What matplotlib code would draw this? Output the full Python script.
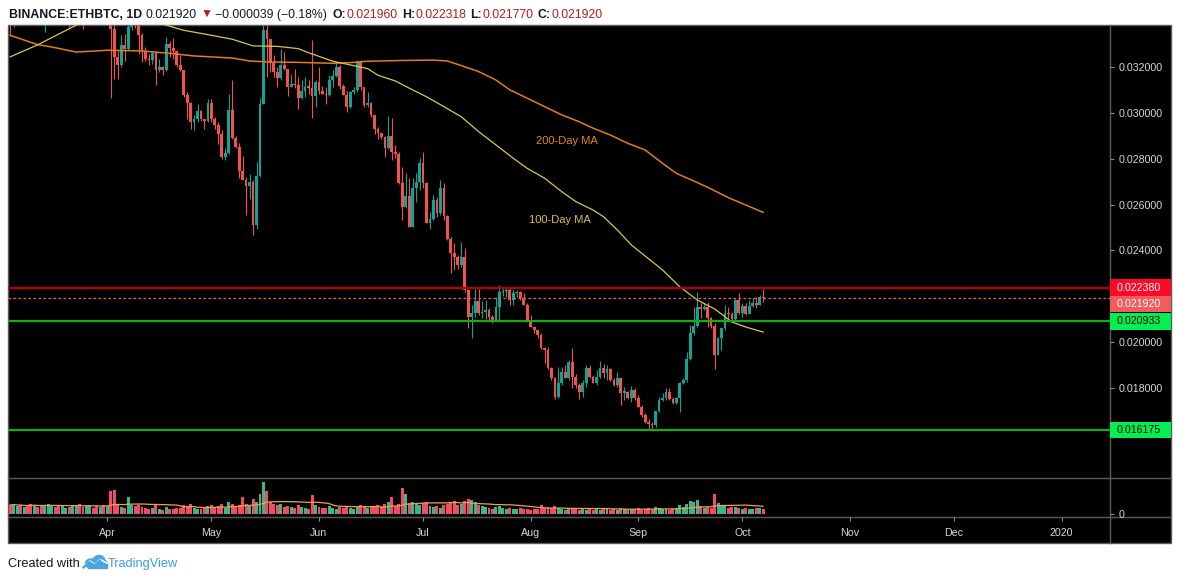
import numpy as np
import pandas as pd
import matplotlib
matplotlib.use("Agg")
import matplotlib.pyplot as plt
import matplotlib.dates as mdates
from matplotlib.patches import Rectangle, Ellipse
from matplotlib.transforms import blended_transform_factory

plt.rcParams["font.family"] = ["Liberation Sans", "DejaVu Sans"]

# ---------------- data ----------------
first_date = "2019-03-04"
last_date = "2019-10-07"
first_open = 0.0350

closes = [
    # Mar 4 - Apr 1
    0.0346, 0.0351, 0.0353, 0.0351, 0.0354, 0.0352, 0.0349, 0.0350, 0.0347, 0.0346,
    0.0349, 0.0351, 0.0354, 0.0352, 0.0350, 0.0351, 0.0353, 0.0348, 0.0349, 0.0350,
    0.0348, 0.0345, 0.0347, 0.0350, 0.0348, 0.0345, 0.0347, 0.0346, 0.0347,
    # Apr 2 - Oct 7
    0.03364, 0.03244, 0.0321, 0.03295, 0.0328, 0.03374, 0.0340, 0.03385, 0.03338, 0.03268,
    0.03233, 0.0323, 0.03261, 0.03185, 0.032, 0.03185, 0.03299, 0.03284, 0.03268, 0.03207,
    0.03185, 0.03079, 0.03044, 0.0296, 0.02975, 0.03008, 0.02972, 0.02963, 0.03043, 0.02975,
    0.02946, 0.02909, 0.02807, 0.02825, 0.03011, 0.0289, 0.02851, 0.02746, 0.02709, 0.0268,
    0.02699, 0.02512, 0.02725, 0.0304, 0.0336, 0.03324, 0.03219, 0.03178, 0.03152, 0.0321,
    0.03193, 0.03113, 0.03127, 0.0312, 0.03065, 0.03094, 0.03113, 0.0311, 0.03074, 0.03134,
    0.03094, 0.03084, 0.03079, 0.03142, 0.03161, 0.032, 0.03117, 0.03079, 0.03026, 0.03091,
    0.03098, 0.03222, 0.03113, 0.03036, 0.03044, 0.02989, 0.02931, 0.02913, 0.02895, 0.02847,
    0.02897, 0.02829, 0.0282, 0.02693, 0.02591, 0.02637, 0.02504, 0.02671, 0.027, 0.0278,
    0.02693, 0.02521, 0.02536, 0.0262, 0.02562, 0.02671, 0.0255, 0.02448, 0.02387, 0.0237,
    0.02335, 0.0237, 0.02227, 0.02111, 0.02125, 0.02181, 0.02125, 0.0213, 0.02142, 0.02111,
    0.02097, 0.02153, 0.02217, 0.02223, 0.02227, 0.02184, 0.02213, 0.0222, 0.02191, 0.02162,
    0.02089, 0.02067, 0.02052, 0.02031, 0.01973, 0.01966, 0.01886, 0.01843, 0.01762, 0.0182,
    0.01868, 0.01845, 0.01914, 0.01849, 0.01813, 0.01781, 0.0182, 0.01889, 0.0185, 0.01823,
    0.0185, 0.01889, 0.01864, 0.01882, 0.01835, 0.01813, 0.01842, 0.0178, 0.01784, 0.01755,
    0.01791, 0.01755, 0.01719, 0.01682, 0.0165, 0.01643, 0.01639, 0.017, 0.01748, 0.01755,
    0.01784, 0.01751, 0.01733, 0.01755, 0.0182, 0.01835, 0.01925, 0.02039, 0.02071, 0.02155,
    0.02143, 0.02155, 0.02104, 0.02071, 0.01944, 0.02017, 0.02061, 0.02126, 0.02123, 0.021,
    0.02184, 0.02126, 0.02158, 0.02123, 0.02158, 0.02172, 0.02162, 0.02196, 0.02192,
]

highs = [
    0.0352, 0.0353, 0.0355, 0.0356, 0.0357, 0.0356, 0.0354, 0.0353, 0.0352, 0.0350,
    0.0352, 0.0353, 0.0356, 0.0356, 0.0354, 0.0353, 0.0355, 0.0354, 0.0351, 0.0352,
    0.0352, 0.0350, 0.0349, 0.0352, 0.0352, 0.0350, 0.0349, 0.0349, 0.0350,
    0.0349, 0.0339, 0.03273, 0.03338, 0.03345, 0.03382, 0.0343, 0.0342, 0.0340, 0.0335,
    0.03287, 0.03258, 0.03268, 0.03265, 0.03236, 0.03205, 0.03331, 0.03313, 0.03326, 0.03273,
    0.03251, 0.03188, 0.03091, 0.03047, 0.02989, 0.0304, 0.03011, 0.02975, 0.03059, 0.03062,
    0.0298, 0.0296, 0.02924, 0.02847, 0.03084, 0.03142, 0.029, 0.0287, 0.02811, 0.0272,
    0.02735, 0.02705, 0.02786, 0.03065, 0.0340, 0.0339, 0.03324, 0.03251, 0.032, 0.03277,
    0.03265, 0.03193, 0.03171, 0.03193, 0.03156, 0.03142, 0.03156, 0.03142, 0.03316, 0.03142,
    0.032, 0.03117, 0.03113, 0.03164, 0.03185, 0.03222, 0.03207, 0.03124, 0.03094, 0.03094,
    0.03113, 0.0323, 0.0323, 0.03113, 0.03091, 0.03047, 0.02989, 0.0294, 0.02913, 0.02899,
    0.02986, 0.02978, 0.0286, 0.0283, 0.02765, 0.02736, 0.02714, 0.02714, 0.02736, 0.02802,
    0.02831, 0.02697, 0.02569, 0.02642, 0.02634, 0.02707, 0.02693, 0.02555, 0.02457, 0.02431,
    0.0238, 0.02438, 0.02409, 0.0223, 0.0216, 0.02235, 0.0223, 0.02181, 0.02185, 0.02148,
    0.02118, 0.02198, 0.02249, 0.02242, 0.02235, 0.02235, 0.0223, 0.02227, 0.02223, 0.02215,
    0.02169, 0.02118, 0.02067, 0.02055, 0.02038, 0.0198, 0.0198, 0.01893, 0.0185, 0.01893,
    0.01893, 0.019, 0.01921, 0.01976, 0.0186, 0.0182, 0.01835, 0.019, 0.019, 0.01857,
    0.01879, 0.01919, 0.01905, 0.019, 0.01886, 0.01842, 0.01871, 0.01847, 0.01806, 0.01789,
    0.01809, 0.01799, 0.0177, 0.01726, 0.0169, 0.01663, 0.01653, 0.017, 0.01762, 0.0178,
    0.01799, 0.01799, 0.01762, 0.01762, 0.01828, 0.01842, 0.01959, 0.02075, 0.02155, 0.0222,
    0.02169, 0.02169, 0.02177, 0.02111, 0.02082, 0.02024, 0.02068, 0.02162, 0.02155, 0.02133,
    0.02187, 0.02213, 0.02169, 0.02169, 0.02184, 0.02191, 0.02198, 0.02206, 0.022318,
]

lows = [
    0.0334, 0.03374, 0.0347, 0.0349, 0.0348, 0.0350, 0.0347, 0.0346, 0.0345, 0.0343,
    0.03352, 0.0346, 0.0349, 0.0350, 0.0348, 0.0347, 0.0348, 0.03374, 0.0345, 0.0347,
    0.0346, 0.03367, 0.0343, 0.0345, 0.0346, 0.0343, 0.0343, 0.0344, 0.0343,
    0.03065, 0.03146, 0.03146, 0.0320, 0.03225, 0.03273, 0.0336, 0.03372, 0.03258, 0.03222,
    0.03225, 0.03207, 0.03215, 0.0312, 0.03178, 0.03164, 0.03181, 0.03244, 0.03236, 0.032,
    0.03181, 0.03069, 0.02975, 0.02931, 0.02924, 0.0296, 0.02963, 0.02931, 0.0296, 0.0296,
    0.02931, 0.02866, 0.028, 0.02793, 0.02822, 0.02887, 0.02847, 0.02716, 0.02709, 0.02556,
    0.02626, 0.02469, 0.02495, 0.02718, 0.03039, 0.03156, 0.03178, 0.03156, 0.03113, 0.03145,
    0.03188, 0.03074, 0.03113, 0.0311, 0.03018, 0.03062, 0.03069, 0.03084, 0.02978, 0.03026,
    0.03084, 0.0308, 0.0304, 0.03074, 0.03113, 0.03156, 0.03106, 0.03076, 0.03004, 0.03019,
    0.03084, 0.03091, 0.03098, 0.03026, 0.03026, 0.02982, 0.02909, 0.02887, 0.02887, 0.02807,
    0.02844, 0.02793, 0.02805, 0.02688, 0.02533, 0.02585, 0.02504, 0.025, 0.02613, 0.02664,
    0.02671, 0.02518, 0.02492, 0.02533, 0.02547, 0.02555, 0.02533, 0.02446, 0.023, 0.02315,
    0.0232, 0.02329, 0.0222, 0.0206, 0.02017, 0.0211, 0.0212, 0.02105, 0.021, 0.02097,
    0.02085, 0.02095, 0.02087, 0.02201, 0.02198, 0.02162, 0.02162, 0.02198, 0.02184, 0.02162,
    0.02089, 0.02064, 0.02038, 0.02017, 0.01969, 0.01908, 0.01882, 0.01836, 0.01754, 0.01758,
    0.01812, 0.01843, 0.01836, 0.01798, 0.01798, 0.01754, 0.01762, 0.01806, 0.01842, 0.0182,
    0.01813, 0.01842, 0.01842, 0.01835, 0.01832, 0.01809, 0.01806, 0.01726, 0.01748, 0.01751,
    0.01741, 0.01748, 0.01716, 0.01675, 0.01646, 0.0162, 0.01617, 0.01632, 0.01697, 0.01745,
    0.01748, 0.01748, 0.0173, 0.0173, 0.01697, 0.01818, 0.01828, 0.01922, 0.02031, 0.02066,
    0.02104, 0.0214, 0.02066, 0.02061, 0.01883, 0.01944, 0.01966, 0.02053, 0.02097, 0.02097,
    0.02097, 0.02123, 0.02111, 0.02118, 0.02123, 0.02152, 0.02148, 0.02161, 0.02177,
]

volumes = [
    9, 10, 8, 9, 7, 8, 10, 9, 7, 8, 9, 10, 8, 7, 9, 8, 6, 7, 9, 8, 10, 7, 8, 9, 6, 8, 7, 9, 8,
    23, 24, 10, 7, 6, 17, 9, 8, 9, 7,
    6, 5, 6, 9, 5, 4, 7, 5, 5, 6,
    6, 9, 8, 10, 6, 5, 5, 6, 8, 9,
    7, 8, 10, 6, 12, 10, 8, 9, 17, 10,
    8, 15, 12, 20, 32, 23, 12, 10, 9, 10,
    7, 8, 7, 6, 9, 7, 6, 5, 19, 9,
    7, 6, 6, 8, 6, 5, 7, 6, 8, 6,
    5, 7, 9, 7, 6, 8, 8, 9, 7, 10,
    12, 17, 8, 10, 26, 20, 11, 12, 10, 9,
    11, 12, 8, 7, 8, 6, 9, 10, 12, 13,
    9, 10, 13, 15, 14, 12, 9, 8, 7, 6,
    5, 7, 8, 6, 5, 6, 5, 5, 6, 5,
    5, 4, 5, 5, 9, 6, 7, 6, 8, 6,
    5, 4, 5, 6, 5, 4, 5, 4, 5, 4,
    5, 4, 6, 5, 4, 5, 4, 6, 5, 4,
    5, 5, 6, 4, 5, 6, 5, 7, 6, 5,
    5, 4, 5, 6, 9, 7, 10, 13, 12, 14,
    8, 6, 7, 6, 20, 11, 9, 8, 6, 7,
    7, 6, 5, 6, 5, 5, 6, 6, 5,
]

ma200_dates = ["2019-03-04", "2019-03-12", "2019-03-16", "2019-03-23", "2019-03-29",
               "2019-04-01", "2019-04-11", "2019-04-20", "2019-04-26", "2019-05-07",
               "2019-05-12", "2019-05-17", "2019-05-26", "2019-06-05", "2019-06-10",
               "2019-06-15", "2019-06-24", "2019-07-04", "2019-07-08", "2019-07-12",
               "2019-07-17", "2019-07-22", "2019-07-26", "2019-07-31", "2019-08-05",
               "2019-08-10", "2019-08-15", "2019-08-19", "2019-08-24", "2019-08-29",
               "2019-09-03", "2019-09-08", "2019-09-12", "2019-09-17", "2019-09-22",
               "2019-09-27", "2019-10-02", "2019-10-07"]
ma200_values = [0.03338, 0.03297, 0.03287, 0.03265, 0.03270, 0.03273, 0.03270, 0.03258,
                0.03248, 0.03239, 0.03226, 0.03222, 0.03220, 0.03216, 0.03219, 0.03225,
                0.03228, 0.03230, 0.03226, 0.03206, 0.03180, 0.03143, 0.03100, 0.03064,
                0.03027, 0.02991, 0.02961, 0.02933, 0.02903, 0.02867, 0.02838, 0.02780,
                0.02736, 0.02703, 0.02668, 0.02630, 0.02598, 0.02566]

ma100_dates = ["2019-03-04", "2019-03-12", "2019-03-23", "2019-03-26", "2019-04-01",
               "2019-04-07", "2019-04-13", "2019-04-18", "2019-04-23", "2019-04-30",
               "2019-05-07", "2019-05-13", "2019-05-20", "2019-05-26", "2019-05-29",
               "2019-06-05", "2019-06-15", "2019-06-18", "2019-06-23", "2019-06-28",
               "2019-07-02", "2019-07-07", "2019-07-12", "2019-07-17", "2019-07-22",
               "2019-07-27", "2019-07-31", "2019-08-05", "2019-08-10", "2019-08-14",
               "2019-08-19", "2019-08-22", "2019-08-26", "2019-08-30", "2019-09-08",
               "2019-09-13", "2019-09-18", "2019-09-23", "2019-09-28", "2019-10-02",
               "2019-10-07"]
ma100_values = [0.03244, 0.03297, 0.03382, 0.03400, 0.03425, 0.03430, 0.03410, 0.03382,
                0.03360, 0.03341, 0.03321, 0.03292, 0.03290, 0.03280, 0.03262, 0.03225,
                0.03193, 0.03164, 0.03139, 0.03100, 0.03070, 0.03027, 0.02983, 0.02918,
                0.02860, 0.02802, 0.02758, 0.02715, 0.02656, 0.02613, 0.02576, 0.02547,
                0.02489, 0.02424, 0.02315, 0.02241, 0.02184, 0.02145, 0.02088, 0.02066,
                0.02044]

resistance = 0.022380
last_price = 0.021920
support_1 = 0.020933
support_2 = 0.016175

price_ticks = [0.018, 0.020, 0.024, 0.026, 0.028, 0.030, 0.032]
month_ticks = ["2019-04-01", "2019-05-01", "2019-06-01", "2019-07-01", "2019-08-01",
               "2019-09-01", "2019-10-01", "2019-11-01", "2019-12-01", "2020-01-01"]
month_labels = ["Apr", "May", "Jun", "Jul", "Aug", "Sep", "Oct", "Nov", "Dec", "2020"]

header_parts = [
    ("BINANCE:ETHBTC, 1D", "bold", "#131722", 0),
    ("0.021920", "normal", "#131722", 2.5),
    ("\u25bc", "normal", "#b71c1c", 3),
    ("\u22120.000039 (\u22120.18%)", "normal", "#131722", 1.5),
    ("O:", "bold", "#131722", 4),
    ("0.021960", "normal", "#b71c1c", 0.3),
    ("H:", "bold", "#131722", 3),
    ("0.022318", "normal", "#b71c1c", 0.3),
    ("L:", "bold", "#131722", 3),
    ("0.021770", "normal", "#b71c1c", 0.3),
    ("C:", "bold", "#131722", 3),
    ("0.021920", "normal", "#b71c1c", 0.3),
]

# ---------------- layout ----------------
W, H = 1177, 577
UP, DOWN = "#12a394", "#f05252"
VUP, VDOWN = "#3cb58a", "#ee4d63"
GRID = "#5c5c5c"
TXT = "#d6d6d6"

fig = plt.figure(figsize=(W / 100, H / 100), dpi=100, facecolor="white")


def rect(x0, y0, x1, y1):
    return [x0 / W, 1 - y1 / H, (x1 - x0) / W, (y1 - y0) / H]


bg = fig.add_axes([0, 0, 1, 1], zorder=0)
bg.set_xlim(0, W)
bg.set_ylim(H, 0)
bg.axis("off")
bg.add_patch(Rectangle((8, 25), 1163, 518, facecolor="black", edgecolor=GRID, lw=1.0))
bg.plot([8, 1171], [478, 478], color=GRID, lw=1.0)
bg.plot([8, 1171], [516.7, 516.7], color=GRID, lw=1.0)
bg.plot([1110, 1110], [25, 543], color=GRID, lw=1.0)

ax = fig.add_axes(rect(8, 25, 1110, 478), zorder=2)
vax = fig.add_axes(rect(8, 478, 1110, 516.7), zorder=2, sharex=ax)
for a in (ax, vax):
    a.set_facecolor("none")
    for s in a.spines.values():
        s.set_visible(False)

dates = pd.date_range(first_date, last_date, freq="D")
x = mdates.date2num(dates)
c = np.array(closes)
h = np.array(highs)
l = np.array(lows)
o = np.array([first_open] + closes[:-1])
up = c >= o
cols = np.where(up, UP, DOWN)

apr1 = mdates.date2num(pd.Timestamp("2019-04-01"))
ax.set_xlim(apr1 - 28.62, apr1 + 288.96)
ymin, ymax = 0.014076, 0.03383
ax.set_ylim(ymin, ymax)
ppu = 453.0 / (ymax - ymin)

ax.vlines(x, l, h, colors=cols, lw=0.8, zorder=2)
body_lo = np.minimum(o, c)
body_h = np.maximum(np.abs(c - o), 1.2 / ppu)
ax.bar(x, body_h, bottom=body_lo, width=0.8, color=cols, linewidth=0, zorder=2)

ax.plot(mdates.date2num(pd.to_datetime(ma200_dates)), ma200_values, color="#e07d1e", lw=1.1, zorder=3)
ax.plot(mdates.date2num(pd.to_datetime(ma100_dates)), ma100_values, color="#d9c84a", lw=0.9, zorder=3)

ax.axhline(resistance, color="#b80000", lw=1.6, zorder=4)
ax.axhline(last_price, color="#f06060", lw=0.9, linestyle=(0, (2, 2)), zorder=4)
ax.axhline(support_1, color="#14ad14", lw=1.6, zorder=4)
ax.axhline(support_2, color="#14ad14", lw=1.6, zorder=4)

ax.text(apr1 + 132.5, 0.028773, "200-Day MA", color="#e0862e", fontsize=8,
        ha="center", va="center")
ax.text(apr1 + 130.5, 0.025328, "100-Day MA", color="#d8c34a", fontsize=8,
        ha="center", va="center")

ax.yaxis.tick_right()
ax.set_yticks(price_ticks)
ax.set_yticklabels([f"{v:.6f}" for v in price_ticks])
ax.tick_params(axis="y", direction="out", length=3, width=0.8, color="#8c8c8c",
               labelcolor=TXT, labelsize=7.7, pad=3)
ax.tick_params(axis="x", bottom=False, labelbottom=False)

# price labels on the scale
trans = blended_transform_factory(ax.transAxes, ax.transData)
axw = 1102.0
bh = 16.5 / ppu
boxes = [
    (resistance, resistance, "#ff0a26", "white"),
    (last_price, last_price - 6.0 / ppu, "#f25c5c", "white"),
    (support_1, support_1 - 0.6 / ppu, "#00f052", "black"),
    (support_2, support_2, "#00f052", "black"),
]
for val, cen, fc, tc in boxes:
    ax.add_patch(Rectangle((1.0, cen - bh / 2), 61 / axw, bh, transform=trans,
                           facecolor=fc, lw=0, clip_on=False, zorder=6))
    ax.text(1.0 + 7 / axw, cen, f"{val:.6f}", transform=trans, color=tc,
            fontsize=7.7, ha="left", va="center", clip_on=False, zorder=7)

# volume pane
vcols = np.where(up, VUP, VDOWN)
vax.bar(x, volumes, width=0.85, color=vcols, linewidth=0)
vol_ma = pd.Series(volumes, dtype=float).rolling(20, min_periods=1).mean()
vax.plot(x, vol_ma, color="#f0a050", lw=0.9)
vax.set_ylim(-2.7, 36)
vax.yaxis.tick_right()
vax.set_yticks([0])
vax.set_yticklabels(["0"])
vax.tick_params(axis="y", direction="out", length=3, width=0.8, color="#8c8c8c",
                labelcolor=TXT, labelsize=7.7, pad=3)
vax.set_xticks(mdates.date2num(pd.to_datetime(month_ticks)))
vax.set_xticklabels(month_labels)
vax.tick_params(axis="x", direction="out", length=3, width=0.8, color="#8c8c8c",
                labelcolor=TXT, labelsize=7.7, pad=5)

# header
prev = None
for txt, wt, col, gap in header_parts:
    if prev is None:
        prev = bg.text(9, 18, txt, fontsize=8.85, fontweight=wt, color=col, va="baseline", ha="left")
    else:
        prev = bg.annotate(txt, xy=(1, 0), xycoords=prev, xytext=(gap, 0),
                           textcoords="offset points", fontsize=8.85, fontweight=wt,
                           color=col, va="bottom", ha="left")

# footer
bg.text(8, 567, "Created with", fontsize=9.2, color="#131722", va="baseline", ha="left")
logo = "#4aa6dd"
bg.add_patch(Ellipse((91, 563.5), 11, 9, color=logo))
bg.add_patch(Ellipse((99, 561), 12, 11, color=logo))
bg.add_patch(Ellipse((104, 564), 7, 7, color=logo))
bg.add_patch(Rectangle((88, 563), 19, 4.5, color=logo))
bg.plot([84, 90, 95, 100, 107], [566.5, 561, 564.5, 559.5, 563], color="white", lw=1.2)
bg.plot([83.5, 89.5, 94.5, 100], [567.5, 562, 565.5, 560.5], color=logo, lw=1.6)
bg.text(108, 567, "TradingView", fontsize=9.2, color="#3a9fda", va="baseline", ha="left")

fig.savefig("out.png", dpi=100, facecolor="white")
